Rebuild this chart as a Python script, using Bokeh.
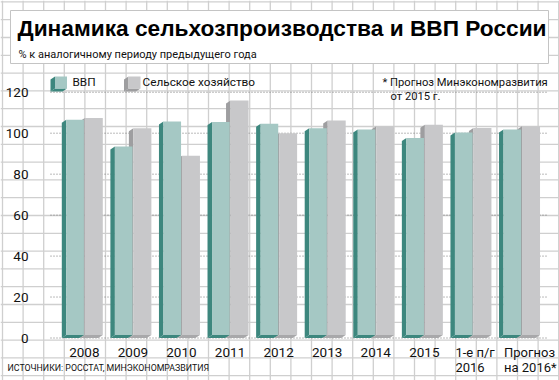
from bokeh.plotting import figure
from bokeh.embed import file_html
from bokeh.resources import INLINE
from bokeh.core.properties import value

# ---------------- data ----------------
categories = ["2008", "2009", "2010", "2011", "2012", "2013", "2014", "2015",
              "1-е п/г\n2016", "Прогноз\nна 2016*"]
gdp = [105.1, 92.0, 104.3, 104.0, 103.2, 101.0, 100.4, 96.2, 98.9, 100.4]
agri = [106.0, 100.9, 87.5, 114.5, 98.5, 104.7, 101.9, 102.7, 101.1, 101.9]
y_ticks = [0, 20, 40, 60, 80, 100, 120]
series_names = ["ВВП", "Сельское хозяйство"]

title = "Динамика сельхозпроизводства и ВВП России"
subtitle = "% к аналогичному периоду предыдущего года"
note1 = "* Прогноз Минэкономразвития"
note2 = "от 2015 г."
source = "ИСТОЧНИКИ: РОССТАТ, МИНЭКОНОМРАЗВИТИЯ"

# ---------------- layout helpers ----------------
W, H = 559, 380
X0, XS = 83.8, 48.58     # px of category 0 centre, px per category
Y0, YS = 337.5, 2.048    # px of value 0, px per unit


def xd(X):
    return (X - X0) / XS


def yd(Y):
    return (Y0 - Y) / YS


x_range = (xd(0), xd(W))
y_range = (yd(H), yd(0))

SANS = value("Roboto")
TEAL_F, TEAL_S = "#a5c8c4", "#3d877e"
GRAY_F, GRAY_S, GRAY_B = "#c8c8ca", "#9e9ea0", "#a8a8aa"
TXT = "#111111"

p = figure(width=W, height=H, x_range=x_range, y_range=y_range,
           output_backend="svg", toolbar_location=None, min_border=0,
           x_axis_type=None, y_axis_type=None, outline_line_color=None,
           background_fill_color="white", border_fill_color="white")
p.grid.visible = False

# graph-paper background
vx = [2 + 20.6 * k for k in range(28)]
vx = [X for X in vx if 0 <= X <= W]
p.segment(x0=[xd(X) for X in vx], x1=[xd(X) for X in vx],
          y0=[y_range[0]] * len(vx), y1=[y_range[1]] * len(vx),
          line_color="#cfcfcf", line_width=1.3)
hy = [215 + 17.8 * k for k in range(-12, 10)]
hy = [Y for Y in hy if 0 <= Y <= H]
p.segment(x0=[x_range[0]] * len(hy), x1=[x_range[1]] * len(hy),
          y0=[yd(Y) for Y in hy], y1=[yd(Y) for Y in hy],
          line_color="#cfcfcf", line_width=1.3)

# title box
p.quad(left=[xd(10)], right=[xd(548)], top=[yd(10)], bottom=[yd(63)],
       fill_color="white", line_color="#c4c4c4", line_width=1)

# dotted value gridlines
p.segment(x0=[xd(50)] * len(y_ticks), x1=[xd(548)] * len(y_ticks),
          y0=y_ticks, y1=y_ticks, line_color="#777777", line_width=1,
          line_dash="1 2")

# 3D bars
dx = 4.5 / XS
dy = 3.0 / YS


def bar_geom(lefts, rights, vals):
    side_xs, side_ys, bot_xs, bot_ys = [], [], [], []
    for L, R, v in zip(lefts, rights, vals):
        side_xs.append([L - dx, L - dx, L, L])
        side_ys.append([0, v, v + dy, dy])
        bot_xs.append([L - dx, R - dx, R, L])
        bot_ys.append([0, 0, dy, dy])
    return side_xs, side_ys, bot_xs, bot_ys


idx = list(range(len(categories)))
g_left = [i - 18.0 / XS for i in idx]
g_right = [i - 0.4 / XS for i in idx]
a_left = [i + 0.5 / XS for i in idx]
a_right = [i + 18.5 / XS for i in idx]

for lefts, rights, vals, cf, cs, cb in [
        (a_left, a_right, agri, GRAY_F, GRAY_S, GRAY_B),
        (g_left, g_right, gdp, TEAL_F, TEAL_S, TEAL_S)]:
    sx, sy, bx, by = bar_geom(lefts, rights, vals)
    p.patches(xs=sx, ys=sy, fill_color=cs, line_color=None)
    p.patches(xs=bx, ys=by, fill_color=cb, line_color=None)
    p.quad(left=lefts, right=rights, bottom=[dy] * len(vals),
           top=[v + dy for v in vals], fill_color=cf, line_color=None)

# legend icons
leg_L = [xd(54.5), xd(128)]
leg_R = [xd(66.5), xd(140)]
leg_top = yd(76) - dy
leg_bot = yd(88)
for L, R, cf, cs in zip(leg_L, leg_R, [TEAL_F, GRAY_F], [TEAL_S, GRAY_S]):
    p.patch(x=[L - dx, L - dx, L, L], y=[leg_bot - dy, leg_top, leg_top + dy, leg_bot],
            fill_color=cs, line_color=None)
    p.patch(x=[L - dx, R - dx, R, L], y=[leg_bot - dy, leg_bot - dy, leg_bot, leg_bot],
            fill_color=cs, line_color=None)
    p.quad(left=[L], right=[R], bottom=[leg_bot], top=[leg_top + dy],
           fill_color=cf, line_color=None)
p.text(x=[xd(72), xd(142)], y=[yd(81)] * 2, text=series_names,
       text_font=SANS, text_font_size="11.8px", text_baseline="middle",
       text_align="left", text_color=TXT)

# title & subtitle
p.text(x=[xd(17)], y=[yd(27)], text=[title], text_font=value("Liberation Sans"),
       text_font_style="bold", text_font_size="22.7px", text_baseline="middle",
       text_align="left", text_color="#000000")
p.text(x=[xd(18)], y=[yd(54)], text=[subtitle], text_font=SANS,
       text_font_size="11px", text_baseline="middle", text_align="left",
       text_color=TXT)

# note
p.text(x=[xd(382), xd(390)], y=[yd(82), yd(95.5)], text=[note1, note2],
       text_font=SANS, text_font_size="11.2px", text_baseline="middle",
       text_align="left", text_color=TXT)

# y tick labels
p.text(x=[xd(28)] * len(y_ticks), y=y_ticks, text=[str(t) for t in y_ticks],
       text_font=SANS, text_font_size="13.5px", text_baseline="middle",
       text_align="right", text_color=TXT)

# category labels
single = [(i, c) for i, c in enumerate(categories) if "\n" not in c]
multi = [(i, c) for i, c in enumerate(categories) if "\n" in c]
p.text(x=[i for i, _ in single], y=[yd(351.5)] * len(single),
       text=[c for _, c in single], text_font=SANS, text_font_size="13.5px",
       text_baseline="middle", text_align="center", text_color=TXT)
p.text(x=[i - 17.5 / XS for i, _ in multi], y=[yd(344.5)] * len(multi),
       text=[c for _, c in multi], text_font=SANS, text_font_size="13px",
       text_baseline="top", text_align="left", text_line_height=1.0,
       text_color=TXT)

# source
p.text(x=[xd(7)], y=[yd(367.5)], text=[source], text_font=SANS,
       text_font_size="8.8px", text_baseline="middle", text_align="left",
       text_color=TXT)

open("out.html", "w").write(file_html(p, INLINE))
